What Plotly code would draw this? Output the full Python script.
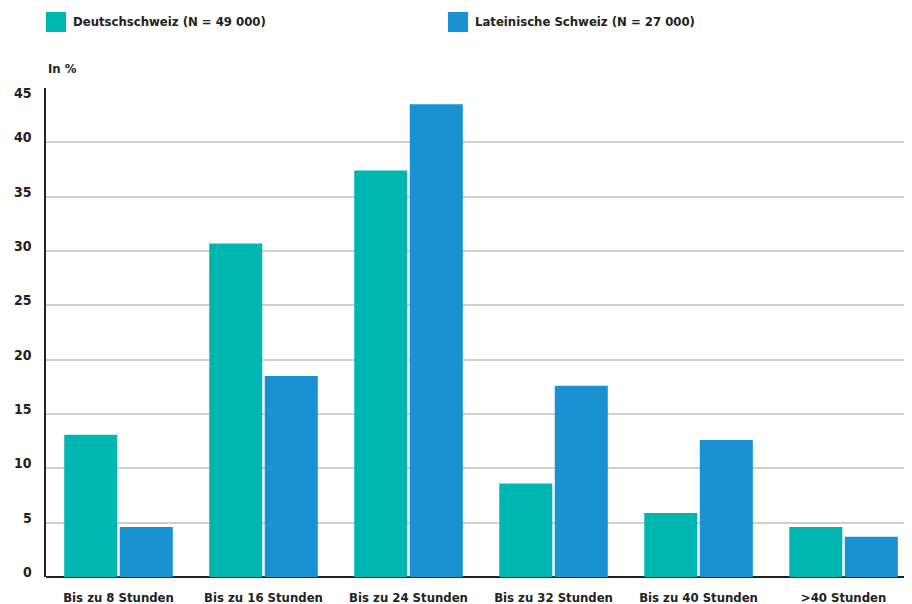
import plotly.graph_objects as go

categories = ["Bis zu 8 Stunden", "Bis zu 16 Stunden", "Bis zu 24 Stunden",
              "Bis zu 32 Stunden", "Bis zu 40 Stunden", ">40 Stunden"]
deutsch = [13.1, 30.7, 37.4, 8.6, 5.9, 4.6]
latein = [4.6, 18.5, 43.5, 17.6, 12.6, 3.7]
series_names = ["Deutschschweiz (N = 49 000)", "Lateinische Schweiz (N = 27 000)"]
y_ticks = [0, 5, 10, 15, 20, 25, 30, 35, 40, 45]

TEAL = "#00B6B1"
BLUE = "#1A92D2"
FONT = "DejaVu Sans Condensed, Liberation Sans Narrow, sans-serif"
TXT = "#222222"
FS = 13

fig = go.Figure()
fig.add_trace(go.Bar(x=categories, y=deutsch, name=series_names[0],
                     marker=dict(color=TEAL, line=dict(width=0)), showlegend=False))
fig.add_trace(go.Bar(x=categories, y=latein, name=series_names[1],
                     marker=dict(color=BLUE, line=dict(width=0)), showlegend=False))

# page body has an 8px margin, so the figure is 8px smaller than the window
fig.update_layout(
    width=904, height=596,
    margin=dict(l=38, r=0, t=80, b=27),
    paper_bgcolor="white", plot_bgcolor="white",
    barmode="group", bargap=0.234, bargroupgap=0.045,
    font=dict(family=FONT, size=FS, color=TXT),
    xaxis=dict(range=[-0.5, 5.472], showgrid=False, showline=False, ticks="",
               tickfont=dict(family=FONT, size=FS, color=TXT, weight="bold"),
               ticklabelstandoff=11, fixedrange=True),
    yaxis=dict(range=[0, 45], tickvals=y_ticks, showticklabels=False,
               showgrid=True, gridcolor="#CFCFCF",
               gridwidth=1.5, zeroline=True, zerolinecolor="#222222", zerolinewidth=2,
               showline=True, linecolor="#222222", linewidth=1.5, ticks=""),
)

# y tick labels sit slightly above their gridlines (top one just below)
for v in y_ticks:
    fig.add_annotation(xref="paper", yref="y", x=(34 - 46) / 866, y=v,
                       text=str(v), showarrow=False, xanchor="right", yanchor="middle",
                       yshift=-5 if v == y_ticks[-1] else 5,
                       font=dict(family=FONT, size=14, color=TXT, weight="bold"))

# custom legend
legend_x = [46, 448]
colors = [TEAL, BLUE]
for lx, c, name in zip(legend_x, colors, series_names):
    fig.add_shape(type="rect", xref="paper", yref="paper",
                  x0=(lx - 46) / 866, x1=(lx - 46 + 20) / 866,
                  y0=(577 - 32) / 489, y1=(577 - 12) / 489,
                  fillcolor=c, line=dict(width=0))
    fig.add_annotation(xref="paper", yref="paper", x=(lx - 46 + 25) / 866,
                       y=(577 - 22) / 489, text=name, showarrow=False,
                       xanchor="left", yanchor="middle",
                       font=dict(family=FONT, size=FS, color=TXT, weight="bold"))

fig.add_annotation(xref="paper", yref="paper", x=0.0, y=(577 - 68) / 489,
                   text="In %", showarrow=False, xanchor="left", yanchor="middle",
                   font=dict(family=FONT, size=FS, color=TXT, weight="bold"))

fig.write_html("out.html")
